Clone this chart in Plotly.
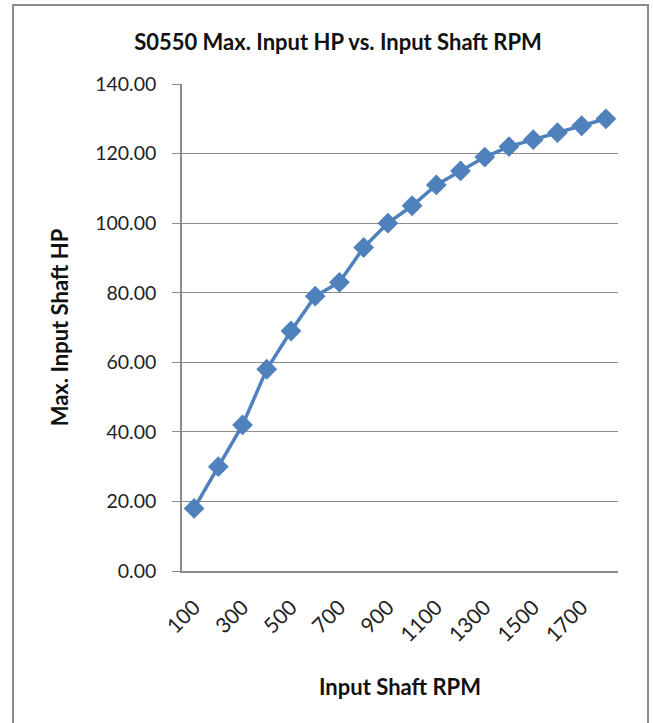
import plotly.graph_objects as go

# data
rpm = [100, 200, 300, 400, 500, 600, 700, 800, 900,
       1000, 1100, 1200, 1300, 1400, 1500, 1600, 1700, 1800]
max_hp = [18, 30, 42, 58, 69, 79, 83, 93, 100,
          105, 111, 115, 119, 122, 124, 126, 128, 130]
rpm_labels = [str(r) for r in rpm]
shown_ticks = rpm_labels[::2]
y_ticks = [0, 20, 40, 60, 80, 100, 120, 140]

W, H = 653, 723
L, R, T, B = 182, 35, 84, 152
pw, ph = W - L - R, H - T - B

def px_x(p):
    return (p - L) / pw

def px_y(q):
    return (H - B - q) / ph

FONT = "Lato"
BLUE = "#4F81BD"
GREY = "#8C8C8C"

fig = go.Figure()
fig.add_trace(go.Scatter(
    x=rpm_labels,
    y=max_hp,
    mode="lines+markers",
    line=dict(color=BLUE, width=3.5),
    marker=dict(symbol="diamond", size=16, color=BLUE),
    showlegend=False,
))

fig.update_layout(
    width=W, height=H,
    margin=dict(l=L, r=R, t=T, b=B),
    paper_bgcolor="white",
    plot_bgcolor="white",
    font=dict(family=FONT, color="#222222"),
    title=dict(
        text="<b>S0550 Max. Input HP vs. Input Shaft RPM</b>",
        x=px_x(338), xref="paper", xanchor="center",
        y=1 - 42 / H, yanchor="middle",
        font=dict(size=22, family=FONT, color="#111111"),
    ),
    shapes=[dict(
        type="rect", xref="paper", yref="paper",
        x0=px_x(13), x1=px_x(648), y0=px_y(740), y1=px_y(5),
        line=dict(color=GREY, width=2), layer="below",
    )],
)

fig.update_xaxes(
    type="category",
    categoryorder="array", categoryarray=rpm_labels,
    tickmode="array", tickvals=shown_ticks, ticktext=shown_ticks,
    tickangle=-45,
    tickfont=dict(size=21, family=FONT, color="#222222"),
    ticklabelstandoff=14,
    showline=True, linecolor=GREY, linewidth=1.5,
    showgrid=False, ticks="",
    range=[-0.5, len(rpm) - 0.5],
    title=dict(text="<b>Input Shaft RPM</b>", font=dict(size=22, family=FONT, color="#111111"), standoff=34),
)
fig.update_yaxes(
    range=[0, 140],
    tickmode="array", tickvals=y_ticks,
    tickformat=".2f",
    tickfont=dict(size=19.5, family=FONT, color="#222222"),
    ticklabelstandoff=12,
    showline=True, linecolor=GREY, linewidth=1.5,
    showgrid=True, gridcolor=GREY, gridwidth=1,
    ticks="outside", ticklen=8, tickcolor=GREY,
    zeroline=False,
    title=dict(text="<b>Max. Input Shaft HP</b>", font=dict(size=22, family=FONT, color="#111111"), standoff=20),
)

# drop the default page margin so the figure sits at the window origin
fig.write_html("out.html", config={"displayModeBar": False},
               post_script="document.body.style.margin='0';")
